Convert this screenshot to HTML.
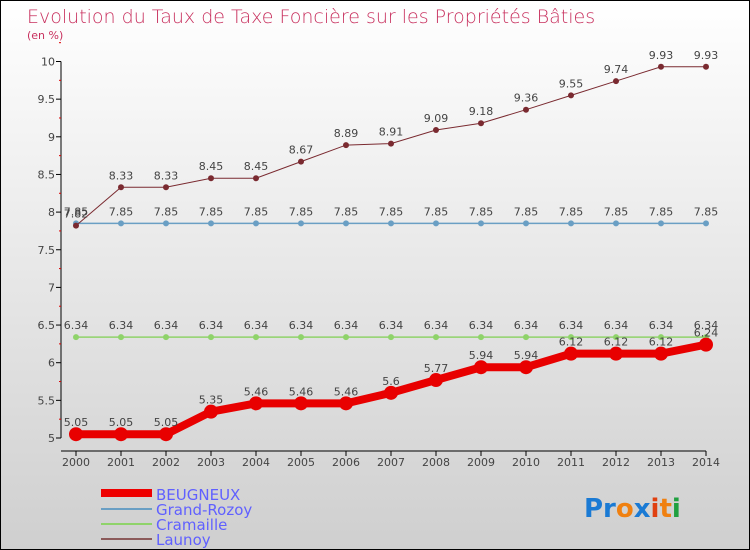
<!DOCTYPE html>
<html><head><meta charset="utf-8"><style>
body{margin:0}
#c{width:748px;height:548px;border:1px solid #000;background:linear-gradient(#fff,#cfcfcf);position:relative;overflow:hidden;font-family:"DejaVu Sans","Liberation Sans",sans-serif}
</style></head><body>
<div id="c">
<svg id="s" width="748" height="548">
<text x="26" y="22" font-size="19" fill="#c8305e" style="font-weight:200">Evolution du Taux de Taxe Foncière sur les Propriétés Bâties</text>
<text x="26" y="38" font-size="11" fill="#c8305e">(en %)</text>
<g id="g"></g>
<g>
<line x1="100" y1="492" x2="151" y2="492" stroke="#e00" stroke-width="8"/>
<text x="155" y="499" font-size="15" fill="#6060ff">BEUGNEUX</text>
<line x1="100" y1="508" x2="151" y2="508" stroke="#6a9fc4" stroke-width="2"/>
<text x="155" y="514" font-size="15" fill="#6060ff">Grand-Rozoy</text>
<line x1="100" y1="523" x2="151" y2="523" stroke="#8fd36a" stroke-width="2"/>
<text x="155" y="529" font-size="15" fill="#6060ff">Cramaille</text>
<line x1="100" y1="538" x2="151" y2="538" stroke="#8b5a5a" stroke-width="2"/>
<text x="155" y="544" font-size="15" fill="#6060ff">Launoy</text>
</g>
<text x="583" y="516" font-size="26" font-weight="bold"><tspan fill="#1a7ad4">Pr</tspan><tspan fill="#f08010">o</tspan><tspan fill="#1a7ad4">x</tspan><tspan fill="#e04010">i</tspan><tspan fill="#f08010">t</tspan><tspan fill="#20a040">i</tspan></text>
</svg>
</div>
<script>
const years=[2000,2001,2002,2003,2004,2005,2006,2007,2008,2009,2010,2011,2012,2013,2014];
const yTicks=[5,5.5,6,6.5,7,7.5,8,8.5,9,9.5,10];
const beugneux=[5.05,5.05,5.05,5.35,5.46,5.46,5.46,5.6,5.77,5.94,5.94,6.12,6.12,6.12,6.24];
const grandRozoy=[7.85,7.85,7.85,7.85,7.85,7.85,7.85,7.85,7.85,7.85,7.85,7.85,7.85,7.85,7.85];
const cramaille=[6.34,6.34,6.34,6.34,6.34,6.34,6.34,6.34,6.34,6.34,6.34,6.34,6.34,6.34,6.34];
const launoy=[7.82,8.33,8.33,8.45,8.45,8.67,8.89,8.91,9.09,9.18,9.36,9.55,9.74,9.93,9.93];
const NS='http://www.w3.org/2000/svg';
const g=document.getElementById('g');
const X=i=>75+i*45;
const Y=v=>437-(v-5)*75.3;
function mk(t,a,p){const e=document.createElementNS(NS,t);for(const k in a)e.setAttribute(k,a[k]);(p||g).appendChild(e);return e;}
let ax=mk('line',{x1:60,y1:Y(10),x2:60,y2:Y(5),stroke:'#000'});


yTicks.forEach(v=>{mk('line',{x1:55,x2:60,y1:Y(v),y2:Y(v),stroke:'#000'});
 mk('line',{x1:58,x2:60,y1:Y(v+0.25),y2:Y(v+0.25),stroke:'#d00'});
 const t=mk('text',{x:54,y:Y(v)+4,'font-size':11,fill:'#444','text-anchor':'end'});t.textContent=String(v);
 
 });
let bx=mk('line',{x1:60,y1:450,x2:X(14),y2:450,stroke:'#000'});


years.forEach((y,i)=>{mk('line',{x1:X(i),x2:X(i),y1:450,y2:455,stroke:'#000'});
 const t=mk('text',{x:X(i),y:465,'font-size':11,fill:'#444','text-anchor':'middle'});t.textContent=y;
 
 });
function series(d,col,w,r,name){
 const l=mk('polyline',{points:d.map((v,i)=>X(i)+','+Y(v)).join(' '),fill:'none',stroke:col,'stroke-width':w});
 
 
 d.forEach((v,i)=>{const c=mk('circle',{cx:X(i),cy:Y(v),r:r,fill:col});
  
  
  const t=mk('text',{x:X(i),y:Y(v)-8,'font-size':11,fill:'#444','text-anchor':'middle'});t.textContent=v.toFixed(2).replace(/0$/,'');
  
  });
}
series(grandRozoy,'#6a9fc4',1.5,3,'grand-rozoy');
series(cramaille,'#8fd36a',1.5,3,'cramaille');
series(launoy,'#7a2a30',1,3,'launoy');
series(beugneux,'#e80000',8,7,'beugneux');
</script>
</body></html>
